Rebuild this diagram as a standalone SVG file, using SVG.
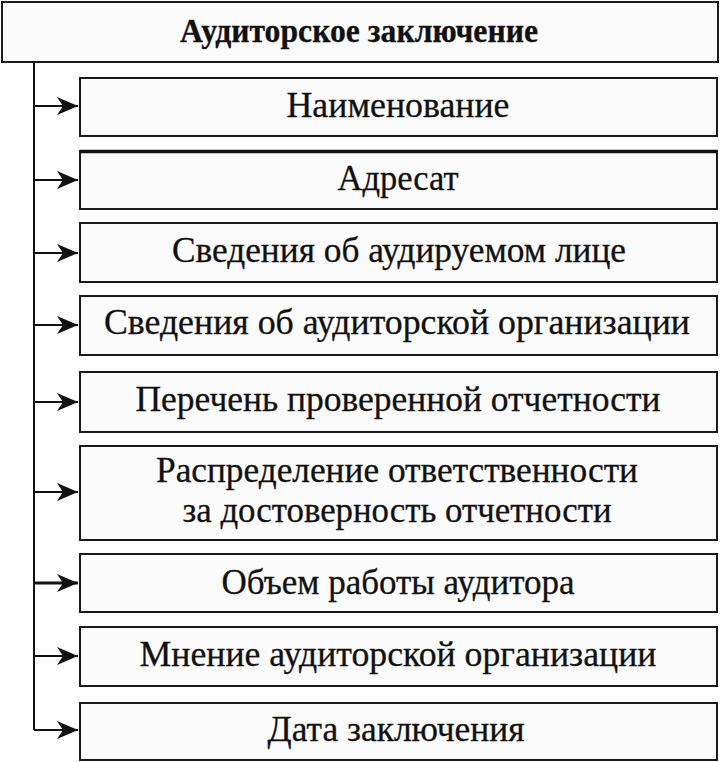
<svg xmlns="http://www.w3.org/2000/svg" width="722" height="762" viewBox="0 0 722 762">
<style>
.box{fill:#fbfbfb;stroke:#1a1a1a;stroke-width:2}
.t{font-family:"Liberation Serif","Times New Roman",serif;font-size:35px;fill:#111;stroke:#111;stroke-width:0.3;text-anchor:middle}
.b{font-weight:bold;font-size:33px}
.c{fill:none;stroke:#111;stroke-width:2}
</style>
<defs>
<marker id="ah" markerUnits="userSpaceOnUse" markerWidth="22" markerHeight="20" refX="21" refY="9" orient="auto">
<path d="M0,0 L21,9 L0,18 L6,9 z" fill="#111"/>
</marker>
</defs>
<rect width="722" height="762" fill="#ffffff"/>
<g id="root"><rect class="box" x="2" y="2" width="716" height="60"/><text class="t b" x="359" y="42" textLength="358" lengthAdjust="spacingAndGlyphs">Аудиторское заключение</text></g>
<g id="connectors">
<path class="c" d="M34,62 V730"/>
<path class="c" d="M34,106 H78" marker-end="url(#ah)"/>
<path class="c" d="M34,180 H78" marker-end="url(#ah)"/>
<path class="c" d="M34,253 H78" marker-end="url(#ah)"/>
<path class="c" d="M34,325 H78" marker-end="url(#ah)"/>
<path class="c" d="M34,402 H78" marker-end="url(#ah)"/>
<path class="c" d="M34,492 H78" marker-end="url(#ah)"/>
<path class="c" d="M34,583 H78" marker-end="url(#ah)" style="stroke-width:3"/>
<path class="c" d="M34,656 H78" marker-end="url(#ah)"/>
<path class="c" d="M34,730 H78" marker-end="url(#ah)"/>
</g>
<g id="n1"><rect class="box" x="80" y="78" width="637" height="58"/><text class="t" x="398" y="117" textLength="223" lengthAdjust="spacingAndGlyphs">Наименование</text></g>
<g id="n2"><rect class="box" x="80" y="151" width="637" height="58"/><path d="M80,151.5 H717" stroke="#111" stroke-width="3.5"/><text class="t" x="398" y="190" textLength="121" lengthAdjust="spacingAndGlyphs">Адресат</text></g>
<g id="n3"><rect class="box" x="80" y="223" width="637" height="59"/><text class="t" x="399" y="262" textLength="454" lengthAdjust="spacingAndGlyphs">Сведения об аудируемом лице</text></g>
<g id="n4"><rect class="box" x="80" y="296" width="637" height="59"/><text class="t" x="397" y="334" textLength="586" lengthAdjust="spacingAndGlyphs">Сведения об аудиторской организации</text></g>
<g id="n5"><rect class="box" x="80" y="372" width="637" height="60"/><text class="t" x="398" y="411" textLength="525" lengthAdjust="spacingAndGlyphs">Перечень проверенной отчетности</text></g>
<g id="n6"><rect class="box" x="80" y="446" width="637" height="94"/><text class="t" x="397" y="482" textLength="482" lengthAdjust="spacingAndGlyphs">Распределение ответственности</text><text class="t" x="397" y="522" textLength="429" lengthAdjust="spacingAndGlyphs">за достоверность отчетности</text></g>
<g id="n7"><rect class="box" x="80" y="554" width="637" height="58"/><text class="t" x="398" y="594" textLength="353" lengthAdjust="spacingAndGlyphs">Объем работы аудитора</text></g>
<g id="n8"><rect class="box" x="80" y="627" width="637" height="59"/><text class="t" x="398" y="666" textLength="517" lengthAdjust="spacingAndGlyphs">Мнение аудиторской организации</text></g>
<g id="n9"><rect class="box" x="80" y="703" width="637" height="57"/><text class="t" x="396" y="741" textLength="257" lengthAdjust="spacingAndGlyphs">Дата заключения</text></g>
</svg>
